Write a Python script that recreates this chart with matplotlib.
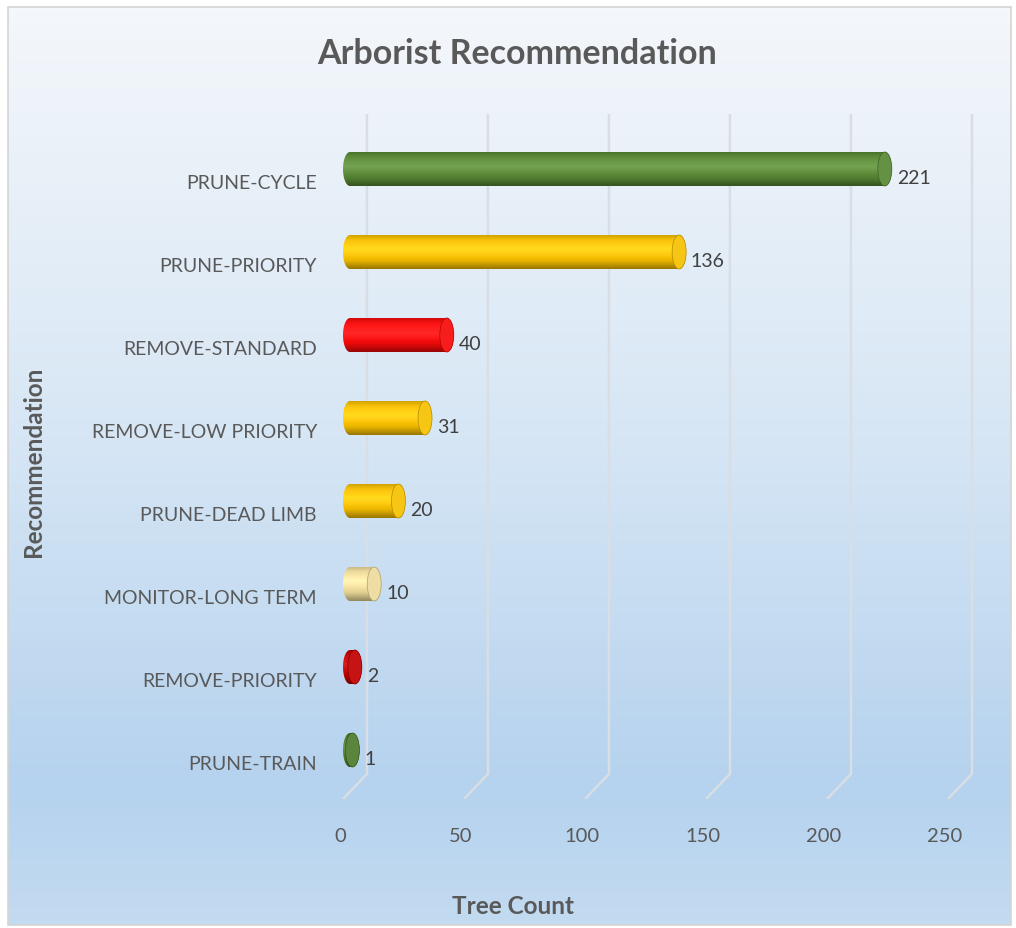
import numpy as np
import matplotlib
matplotlib.use("Agg")
import matplotlib.pyplot as plt
from matplotlib.patches import Polygon, Ellipse, Rectangle
from matplotlib.colors import to_rgb, LinearSegmentedColormap

# Data
categories = ["PRUNE-CYCLE", "PRUNE-PRIORITY", "REMOVE-STANDARD", "REMOVE-LOW PRIORITY",
              "PRUNE-DEAD LIMB", "MONITOR-LONG TERM", "REMOVE-PRIORITY", "PRUNE-TRAIN"]
counts = [221, 136, 40, 31, 20, 10, 2, 1]
bar_colors = ["#5b8c36", "#ffc600", "#ff0a0a", "#ffc600",
              "#ffc600", "#f6e3a0", "#c80000", "#4f7d2c"]
x_ticks = [0, 50, 100, 150, 200, 250]

W, H = 1016, 929
fig = plt.figure(figsize=(W / 100, H / 100), dpi=100)

# background panel with vertical gradient
bg = fig.add_axes([0, 0, 1, 1])
bg.set_xlim(0, W)
bg.set_ylim(H, 0)
bg.axis("off")
bg_cmap = LinearSegmentedColormap.from_list(
    "bg", [(0, "#f4f7fb"), (0.45, "#d8e7f5"), (0.85, "#b5d2ee"), (1.0, "#c3dbf1")])
grad = np.linspace(0, 1, 256).reshape(-1, 1)
bg.imshow(grad, cmap=bg_cmap, extent=[8, 1011, 926, 8], aspect="auto", zorder=0)
bg.add_patch(Rectangle((8, 8), 1003, 918, fill=False, edgecolor="#d4d4d4", lw=1.2, zorder=1))

# main plot axes (value units horizontally, category index vertically)
left_px, right_px, top_px, bot_px = 330, 990, 115, 800
zero_px, ppu = 350, 2.42       # pixel of value 0 and pixels per unit
first_px, ppc = 170, 83        # pixel of first category and pixels per category
ax = fig.add_axes([left_px / W, 1 - bot_px / H, (right_px - left_px) / W, (bot_px - top_px) / H])
ax.patch.set_alpha(0)
ax.axis("off")
xmin, xmax = (left_px - zero_px) / ppu, (right_px - zero_px) / ppu
ymin, ymax = (top_px - first_px) / ppc, (bot_px - first_px) / ppc

# 3D-ish gridlines on back wall + floor
bend = (775 - first_px) / ppc
for v in x_ticks:
    ax.plot([v + 7.0, v + 7.0, v - 2.9], [ymin, bend, ymax], color="#d9dee4",
            lw=1.8, solid_capstyle="butt", zorder=1)

a = 7 / ppu     # cap half width
b = 17 / ppc    # cylinder half height


def shade(base, n=64):
    rgb = np.array(to_rgb(base))
    t = np.linspace(0, 1, n)
    mult = np.interp(t, [0, 0.12, 0.4, 0.75, 1], [0.82, 0.95, 1.08, 0.92, 0.6])
    white = np.interp(t, [0, 0.3, 0.45, 0.7, 1], [0.0, 0.08, 0.12, 0.0, 0.0])
    col = np.clip(rgb[None, :] * mult[:, None], 0, 1)
    col = col + (1 - col) * white[:, None]
    return col.reshape(n, 1, 3)


for i, (v, c) in enumerate(zip(counts, bar_colors)):
    th1 = np.linspace(np.pi / 2, 3 * np.pi / 2, 60)
    th2 = np.linspace(-np.pi / 2, np.pi / 2, 60)
    pts = np.vstack([np.column_stack([a * np.cos(th1), i + b * np.sin(th1)]),
                     np.column_stack([v + a * np.cos(th2), i + b * np.sin(th2)])])
    body = Polygon(pts, closed=True, facecolor="none", edgecolor="none")
    ax.add_patch(body)
    im = ax.imshow(shade(c), extent=[-a, v + a, i + b, i - b], aspect="auto",
                   interpolation="bilinear", zorder=3)
    im.set_clip_path(body)
    rgb = np.array(to_rgb(c))
    face = rgb * 0.97 + (1 - rgb) * 0.08
    ax.add_patch(Ellipse((v, i), 2 * a, 2 * b, facecolor=face,
                         edgecolor=tuple(rgb * 0.7), lw=0.5, zorder=4))
    ax.text(v + a + 2, i + 14 / ppc, str(v), ha="left", va="baseline", fontsize=14,
            color="#404040", family="Lato", zorder=5)
    ax.text((317 - zero_px) / ppu, i + 19 / ppc, categories[i], ha="right", va="baseline",
            fontsize=14, color="#595959", family="Lato", clip_on=False)

for v in x_ticks:
    ax.text(v - 4.1, (842 - first_px) / ppc, str(v), ha="center", va="baseline",
            fontsize=14.5, color="#595959", family="Lato", clip_on=False)

ax.set_xlim(xmin, xmax)
ax.set_ylim(ymax, ymin)

fig.text(517 / W, 1 - 64 / H, "Arborist Recommendation", ha="center", va="baseline",
         fontsize=24.5, fontweight="bold", color="#595959", family="Lato")
fig.text(513 / W, 1 - 914 / H, "Tree Count", ha="center", va="baseline",
         fontsize=17.5, fontweight="bold", color="#595959", family="Lato")
fig.text(34 / W, 1 - 462 / H, "Recommendation", ha="center", va="center", rotation=90,
         fontsize=17.5, fontweight="bold", color="#595959", family="Lato")

fig.savefig("out.png", dpi=100, facecolor="white")
